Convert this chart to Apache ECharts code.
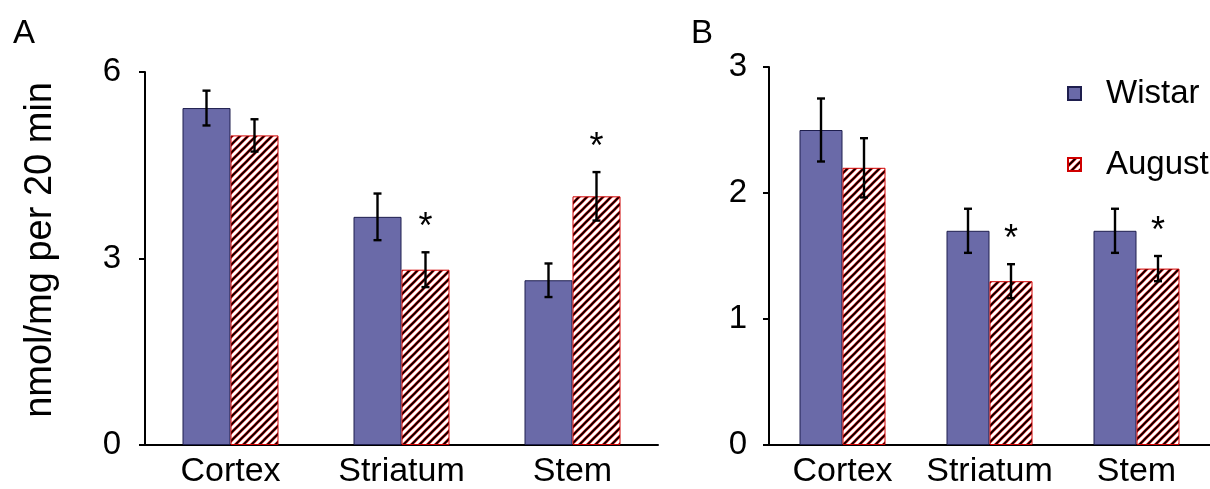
<!DOCTYPE html>
<html>
<head>
<meta charset="utf-8">
<script src="https://cdn.jsdelivr.net/npm/echarts@6/dist/echarts.min.js"></script>
<style>
  html, body { margin: 0; padding: 0; background: #fff; }
  #chart { width: 1210px; height: 489px; }
</style>
</head>
<body>
<div id="chart"></div>
<script>
  // data
  var categories = ['Cortex', 'Striatum', 'Stem'];
  var wistarA = [5.42, 3.67, 2.65];
  var wistarErrA = [0.28, 0.375, 0.27];
  var augustA = [4.98, 2.82, 4.0];
  var augustErrA = [0.26, 0.28, 0.39];
  var wistarB = [2.5, 1.7, 1.7];
  var wistarErrB = [0.25, 0.175, 0.175];
  var augustB = [2.2, 1.3, 1.4];
  var augustErrB = [0.235, 0.135, 0.1];
  var starsAugust = [false, true, true];
  var ticksA = [0, 3, 6];
  var ticksB = [0, 1, 2, 3];

  var font = '"Liberation Sans", Arial, sans-serif';

  // diagonal hatch for the August bars
  function hatch() {
    var s = 8;
    var c = document.createElement('canvas');
    c.width = s; c.height = s;
    var ctx = c.getContext('2d');
    ctx.fillStyle = '#fff';
    ctx.fillRect(0, 0, s, s);
    var segs = [[-2, s + 2, s + 2, -2], [-2, 2, 2, -2], [s - 2, s + 2, s + 2, s - 2]];
    [['#e00000', 2.7], ['#000', 1.6]].forEach(function (st) {
      ctx.strokeStyle = st[0];
      ctx.lineWidth = st[1];
      segs.forEach(function (p) {
        ctx.beginPath();
        ctx.moveTo(p[0], p[1]);
        ctx.lineTo(p[2], p[3]);
        ctx.stroke();
      });
    });
    return c;
  }
  var hatchFill = { image: hatch(), repeat: 'repeat' };

  function errData(vals, errs, stars) {
    return vals.map(function (v, i) {
      return [i, v, errs[i], stars && stars[i] ? 1 : 0];
    });
  }

  function errSeries(axis, vals, errs, stars, offset) {
    return {
      type: 'custom',
      xAxisIndex: axis,
      yAxisIndex: axis,
      z: 10,
      data: errData(vals, errs, stars),
      renderItem: function (params, api) {
        var i = api.value(0), v = api.value(1), e = api.value(2);
        var top = api.coord([i, v + e]);
        var bot = api.coord([i, v - e]);
        var x = top[0] + offset;
        var cap = 4;
        var st = { stroke: '#000', lineWidth: 2.4 };
        var kids = [
          { type: 'line', shape: { x1: x, y1: top[1], x2: x, y2: bot[1] }, style: st },
          { type: 'line', shape: { x1: x - cap, y1: top[1], x2: x + cap, y2: top[1] }, style: st },
          { type: 'line', shape: { x1: x - cap, y1: bot[1], x2: x + cap, y2: bot[1] }, style: st }
        ];
        if (api.value(3)) {
          kids.push({
            type: 'text',
            style: {
              text: '*', x: x, y: top[1] - 6,
              fill: '#000', font: '36px ' + font,
              align: 'center', verticalAlign: 'bottom'
            }
          });
        }
        return { type: 'group', children: kids };
      }
    };
  }

  function xAxis(grid) {
    return {
      type: 'category',
      gridIndex: grid,
      data: categories,
      axisLine: { lineStyle: { color: '#000', width: 2 } },
      axisTick: { length: 8, lineStyle: { color: '#000', width: 2 } },
      axisLabel: { interval: 0, color: '#000', fontSize: 34, fontFamily: font, margin: 10 }
    };
  }

  function yAxis(grid, ticks, margin) {
    var step = ticks[1] - ticks[0];
    return {
      type: 'value',
      gridIndex: grid,
      min: ticks[0],
      max: ticks[ticks.length - 1],
      interval: step,
      splitLine: { show: false },
      axisLine: { show: true, lineStyle: { color: '#000', width: 2 } },
      axisTick: { show: true, length: 6, lineStyle: { color: '#000', width: 2 } },
      axisLabel: { color: '#000', fontSize: 33, fontFamily: font, margin: margin }
    };
  }

  var chart = echarts.init(document.getElementById('chart'));

  var option = {
    animation: false,
    backgroundColor: '#fff',
    title: [
      { text: 'A', left: 8, top: 12, textStyle: { fontSize: 33, fontWeight: 'normal', fontFamily: font, color: '#000' } },
      { text: 'B', left: 686, top: 12, textStyle: { fontSize: 33, fontWeight: 'normal', fontFamily: font, color: '#000' } }
    ],
    legend: {
      data: ['Wistar', 'August'],
      orient: 'vertical',
      left: 1062,
      top: 72,
      itemGap: 38,
      itemWidth: 13,
      itemHeight: 13,
      icon: 'rect',
      textStyle: { fontSize: 33, fontFamily: font, color: '#000', padding: [0, 0, 0, 20] }
    },
    graphic: [{
      type: 'text',
      left: 22,
      top: 82,
      rotation: Math.PI / 2,
      style: {
        text: 'nmol/mg per 20 min',
        font: '38px ' + font,
        fill: '#000'
      }
    }],
    grid: [
      { left: 145, top: 72, width: 513, height: 374 },
      { left: 769, top: 67, width: 453, height: 378 }
    ],
    xAxis: [xAxis(0), xAxis(1)],
    yAxis: [yAxis(0, ticksA, 24), yAxis(1, ticksB, 22)],
    series: [
      {
        name: 'Wistar', type: 'bar', xAxisIndex: 0, yAxisIndex: 0,
        barWidth: 48, barGap: '0%', data: wistarA,
        itemStyle: { color: '#6a6aa8', borderColor: '#1e1e4e', borderWidth: 1 }
      },
      {
        name: 'August', type: 'bar', xAxisIndex: 0, yAxisIndex: 0,
        barWidth: 48, barGap: '0%', data: augustA,
        itemStyle: { color: hatchFill, borderColor: '#d00000', borderWidth: 1 }
      },
      {
        name: 'Wistar', type: 'bar', xAxisIndex: 1, yAxisIndex: 1,
        barWidth: 43, barGap: '0%', data: wistarB,
        itemStyle: { color: '#6a6aa8', borderColor: '#1e1e4e', borderWidth: 1 }
      },
      {
        name: 'August', type: 'bar', xAxisIndex: 1, yAxisIndex: 1,
        barWidth: 43, barGap: '0%', data: augustB,
        itemStyle: { color: hatchFill, borderColor: '#d00000', borderWidth: 1 }
      },
      errSeries(0, wistarA, wistarErrA, null, -24),
      errSeries(0, augustA, augustErrA, starsAugust, 24),
      errSeries(1, wistarB, wistarErrB, null, -21.5),
      errSeries(1, augustB, augustErrB, starsAugust, 21.5)
    ]
  };

  chart.setOption(option);
</script>
</body>
</html>
